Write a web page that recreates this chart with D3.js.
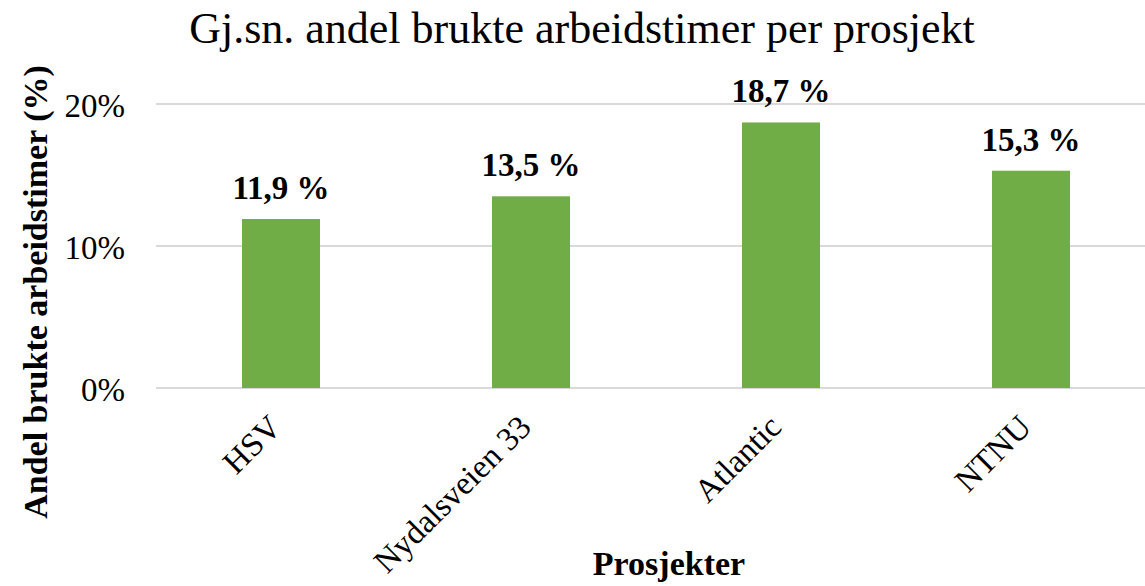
<!DOCTYPE html>
<html>
<head>
<meta charset="utf-8">
<script src="https://cdn.jsdelivr.net/npm/d3@7"></script>
<style>
  body { margin: 0; background: #fff; }
  svg text { font-family: "Liberation Serif", "Times New Roman", serif; fill: #000; }
</style>
</head>
<body>
<div id="container"></div>
<script>
// data
const projects = ["HSV", "Nydalsveien 33", "Atlantic", "NTNU"];
const shares = [11.9, 13.5, 18.7, 15.3];
const yTicks = [0, 10, 20];

const width = 1145;
const height = 586;
const margin = { top: 104, right: -11, bottom: 198, left: 156 };

const svg = d3.select("#container")
    .append("svg")
    .attr("width", width)
    .attr("height", height);

const x = d3.scaleBand()
    .domain(projects)
    .range([margin.left, width - margin.right])
    .paddingInner(0.688)
    .paddingOuter(0.344);

const y = d3.scaleLinear()
    .domain([0, 20])
    .range([height - margin.bottom, margin.top]);

// gridlines
svg.append("g")
    .selectAll("line")
    .data(yTicks)
    .join("line")
    .attr("x1", margin.left)
    .attr("x2", width)
    .attr("y1", d => y(d))
    .attr("y2", d => y(d))
    .attr("stroke", "#d9d9d9")
    .attr("stroke-width", 2);

// y axis labels
svg.append("g")
    .attr("transform", `translate(${margin.left}, 0)`)
    .call(d3.axisLeft(y).tickValues(yTicks).tickFormat(d => d + "%").tickSize(0).tickPadding(31))
    .call(g => g.select(".domain").remove())
    .call(g => g.selectAll("text")
        .attr("font-size", "33px")
        .attr("font-family", "Liberation Serif")
        .attr("dy", "0.37em"));

// bars
svg.append("g")
    .selectAll("rect")
    .data(shares)
    .join("rect")
    .attr("x", (d, i) => x(projects[i]))
    .attr("y", d => y(d))
    .attr("width", x.bandwidth())
    .attr("height", d => y(0) - y(d))
    .attr("fill", "#70ad47");

// value labels
svg.append("g")
    .selectAll("text")
    .data(shares)
    .join("text")
    .attr("x", (d, i) => x(projects[i]) + x.bandwidth() / 2)
    .attr("y", d => y(d) - 20)
    .attr("text-anchor", "middle")
    .attr("font-size", "33px")
    .attr("font-weight", "bold")
    .text(d => d.toFixed(1).replace(".", ",") + " %");

// x axis labels, rotated
svg.append("g")
    .attr("transform", `translate(0, ${y(0)})`)
    .call(d3.axisBottom(x).tickSize(0).tickPadding(0))
    .call(g => g.select(".domain").remove())
    .call(g => g.selectAll("text")
        .attr("font-size", "33px")
        .attr("font-family", "Liberation Serif")
        .attr("text-anchor", "end")
        .attr("dy", 0)
        .attr("transform", "translate(2, 41) rotate(-45)"));

// title
svg.append("text")
    .attr("x", 582)
    .attr("y", 43)
    .attr("text-anchor", "middle")
    .attr("font-size", "44px")
    .text("Gj.sn. andel brukte arbeidstimer per prosjekt");

// y axis title
svg.append("text")
    .attr("transform", `translate(47, 292) rotate(-90)`)
    .attr("text-anchor", "middle")
    .attr("font-size", "34px")
    .attr("font-weight", "bold")
    .text("Andel brukte arbeidstimer (%)");

// x axis title
svg.append("text")
    .attr("x", 669)
    .attr("y", 575)
    .attr("text-anchor", "middle")
    .attr("font-size", "34px")
    .attr("font-weight", "bold")
    .text("Prosjekter");
</script>
</body>
</html>
